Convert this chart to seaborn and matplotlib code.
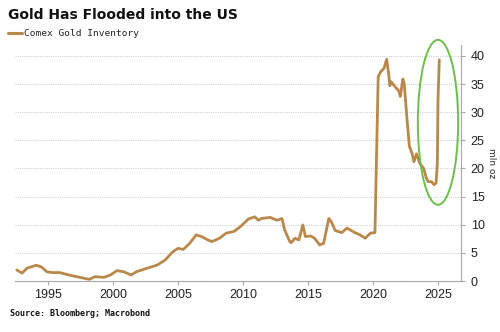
import matplotlib
matplotlib.use("Agg")
import matplotlib.pyplot as plt
from matplotlib.patches import Ellipse
import seaborn as sns
import pandas as pd

years = [1992.6, 1993.0, 1993.4, 1994.1, 1994.5, 1994.9, 1995.3, 1995.9, 1996.6, 1997.2,
         1997.8, 1998.2, 1998.6, 1999.3, 1999.8, 2000.3, 2000.8, 2001.4, 2001.8, 2002.6,
         2003.4, 2004.0, 2004.6, 2005.0, 2005.4, 2005.9, 2006.4, 2006.8, 2007.3, 2007.6,
         2008.2, 2008.7, 2009.3, 2009.8, 2010.4, 2010.9, 2011.2, 2011.4, 2012.1, 2012.6,
         2013.0, 2013.2, 2013.6, 2013.7, 2014.0, 2014.3, 2014.6, 2014.8, 2015.2, 2015.5,
         2015.9, 2016.2, 2016.6, 2016.8, 2017.1, 2017.6, 2018.0, 2018.6, 2019.0, 2019.4,
         2019.8, 2020.15, 2020.4, 2020.6, 2020.85, 2021.05, 2021.2, 2021.3, 2021.4, 2021.7,
         2021.9, 2022.0, 2022.1, 2022.3, 2022.4, 2022.6, 2022.8, 2023.0, 2023.15, 2023.35,
         2023.6, 2023.9, 2024.1, 2024.25, 2024.5, 2024.7, 2024.85, 2024.95, 2025.0, 2025.1]
inventory = [1.96, 1.4, 2.3, 2.8, 2.5, 1.65, 1.5, 1.5, 1.07, 0.77,
             0.47, 0.3, 0.77, 0.65, 1.07, 1.84, 1.65, 1.07, 1.65, 2.25,
             2.84, 3.7, 5.2, 5.8, 5.6, 6.7, 8.2, 7.9, 7.3, 7.0,
             7.6, 8.5, 8.8, 9.65, 11.0, 11.4, 10.8, 11.1, 11.3, 10.8,
             11.1, 9.07, 7.0, 6.8, 7.6, 7.3, 9.95, 7.9, 8.0, 7.6,
             6.4, 6.7, 11.1, 10.5, 8.95, 8.6, 9.4, 8.6, 8.2, 7.6,
             8.5, 8.6, 36.3, 37.2, 37.8, 39.4, 36.9, 34.7, 35.4, 34.5,
             34.0, 33.7, 32.8, 35.9, 35.1, 29.2, 23.9, 22.7, 21.2, 22.6,
             20.9, 20.0, 18.3, 17.65, 17.65, 17.1, 17.4, 20.9, 32.2, 39.3]
x_ticks = [1995, 2000, 2005, 2010, 2015, 2020, 2025]
y_ticks = [0, 5, 10, 15, 20, 25, 30, 35, 40]

df = pd.DataFrame({"year": years, "Comex Gold Inventory": inventory})

sns.set_style("white")
fig = plt.figure(figsize=(5.0, 3.32), dpi=100)
ax = fig.add_axes([0.03, 0.1536, 0.892, 0.712])

line_color = "#B8894A"
sns.lineplot(data=df, x="year", y="Comex Gold Inventory", ax=ax, color=line_color,
             linewidth=2.0, legend=False)

ax.set_xlim(1992.46, 2026.77)
ax.set_ylim(0, 42)
ax.set_xticks(x_ticks)
ax.set_yticks(y_ticks)
ax.yaxis.tick_right()
ax.yaxis.set_label_position("right")
ax.set_xlabel("")
ax.set_ylabel("mln oz", rotation=270, fontsize=6.5, family="DejaVu Sans", labelpad=8)

for s in ["top", "left"]:
    ax.spines[s].set_visible(False)
for s in ["bottom", "right"]:
    ax.spines[s].set_color("#A8A8A8")
    ax.spines[s].set_linewidth(0.8)

ax.tick_params(axis="x", which="major", bottom=True, length=3, width=0.8, color="#A8A8A8",
               labelsize=9, pad=3)
ax.tick_params(axis="y", which="major", right=True, left=False, length=3, width=0.8,
               color="#A8A8A8", labelsize=9, pad=4)
for lab in ax.get_xticklabels() + ax.get_yticklabels():
    lab.set_family("Liberation Sans")
    lab.set_color("#222222")

ax.grid(axis="y", color="#D2D2D2", linestyle=(0, (1, 1)), linewidth=0.8)
ax.grid(axis="x", visible=False)

ell = Ellipse((2025.0, 28.2), width=3.1, height=29.3, fill=False, edgecolor="#6CC04A",
              linewidth=1.4, clip_on=False, zorder=5)
ax.add_patch(ell)

fig.text(0.016, 0.955, "Gold Has Flooded into the US", fontsize=10, fontweight="bold",
         family="DejaVu Sans", ha="left", va="center", color="#111111")
fig.lines.append(plt.Line2D([0.016, 0.044], [0.9, 0.9], transform=fig.transFigure,
                            color=line_color, linewidth=2.2))
fig.text(0.047, 0.9, "Comex Gold Inventory", fontsize=6.8, family="DejaVu Sans Mono",
         ha="left", va="center", color="#222222")
fig.text(0.02, 0.057, "Source: Bloomberg; Macrobond", fontsize=6.0, fontweight="bold",
         family="DejaVu Sans Mono", ha="left", va="center", color="#111111")

fig.savefig("out.png", dpi=100)
